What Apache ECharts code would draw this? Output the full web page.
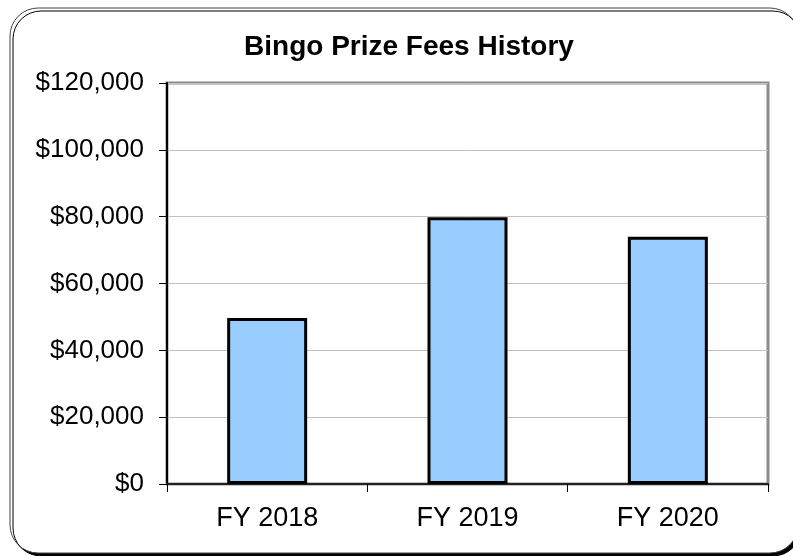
<!DOCTYPE html>
<html>
<head>
<meta charset="utf-8">
<script src="https://cdn.jsdelivr.net/npm/echarts@6/dist/echarts.min.js"></script>
<style>
  html, body { margin: 0; padding: 0; background: #fff; }
  #main { width: 793px; height: 556px; }
</style>
</head>
<body>
<div id="main"></div>
<script>
// data
var categories = ["FY 2018", "FY 2019", "FY 2020"];
var fees = [49700, 79800, 74000];
var yTickLabels = ["$0", "$20,000", "$40,000", "$60,000", "$80,000", "$100,000", "$120,000"];

var myChart = echarts.init(document.getElementById("main"));

var option = {
  backgroundColor: "#fff",
  animation: false,
  // rounded frame with a dark shadow
  graphic: [
    {
      type: "rect",
      z: -10,
      shape: { x: 10, y: 8, width: 788, height: 545, r: 28 },
      style: {
        fill: "#fff",
        stroke: "#444",
        lineWidth: 1,
        shadowColor: "#000",
        shadowOffsetX: 3,
        shadowOffsetY: 3,
        shadowBlur: 0
      },
      silent: true
    }
  ],
  title: {
    text: "Bingo Prize Fees History",
    left: 404,
    top: 28,
    textAlign: "center",
    textStyle: {
      fontFamily: "Liberation Sans",
      fontWeight: "bold",
      fontSize: 28,
      color: "#000"
    }
  },
  grid: {
    left: 167,
    right: 25,
    top: 83,
    bottom: 72,
    show: true,
    borderColor: "#8c8c8c",
    borderWidth: 3,
    backgroundColor: "transparent"
  },
  xAxis: {
    type: "category",
    data: categories,
    axisLine: { lineStyle: { color: "#222", width: 2 } },
    axisTick: { show: true, length: 8, alignWithLabel: false, lineStyle: { color: "#000", width: 1 } },
    axisLabel: {
      margin: 21,
      fontFamily: "Liberation Sans",
      fontSize: 27,
      color: "#000"
    }
  },
  yAxis: {
    type: "value",
    min: 0,
    max: 120000,
    interval: 20000,
    axisLine: { show: true, lineStyle: { color: "#000", width: 2 } },
    axisTick: { show: true, length: 8, lineStyle: { color: "#000", width: 1 } },
    splitLine: { lineStyle: { color: "#c0c0c0", width: 1 } },
    axisLabel: {
      margin: 23,
      fontFamily: "Liberation Sans",
      fontSize: 26,
      color: "#000",
      formatter: function (v) {
        return yTickLabels[Math.round(v / 20000)];
      }
    }
  },
  series: [
    {
      name: "Bingo Prize Fees",
      type: "bar",
      data: fees,
      barWidth: 80,
      itemStyle: {
        color: "#99ccff",
        borderColor: "#000",
        borderWidth: 3
      }
    }
  ]
};

myChart.setOption(option);
</script>
</body>
</html>
